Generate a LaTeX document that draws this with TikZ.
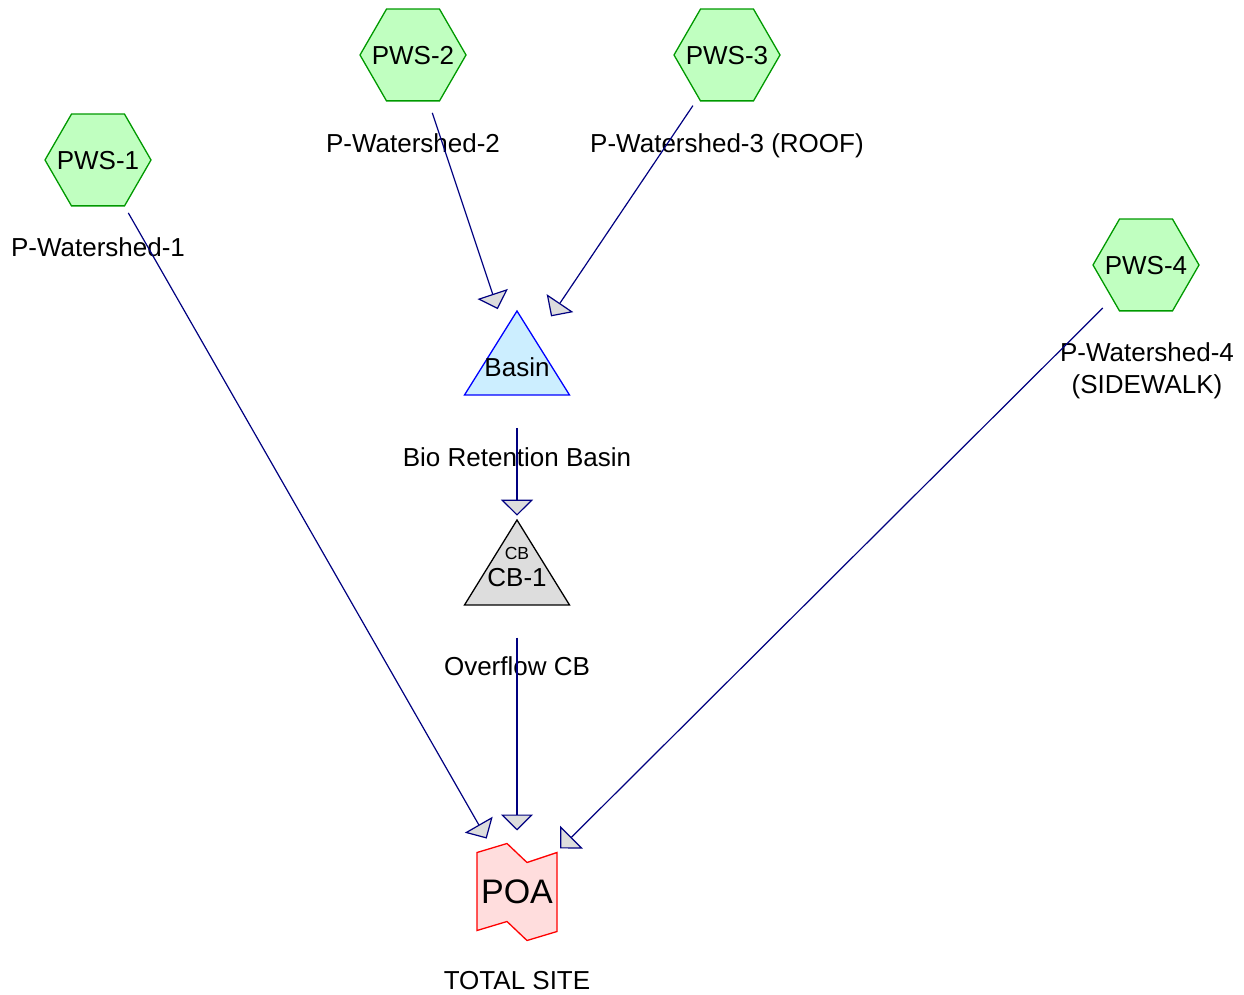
\documentclass[tikz,border=0pt]{standalone}
\usepackage{fontspec}
\setmainfont{Liberation Sans}
\usetikzlibrary{arrows.meta,positioning,shapes.geometric,backgrounds}

\definecolor{wsfill}{HTML}{C0FFC0}
\definecolor{wsline}{HTML}{009900}
\definecolor{pondfill}{HTML}{CCEEFF}
\definecolor{cbfill}{HTML}{DDDDDD}
\definecolor{poafill}{HTML}{FFDDDD}
\definecolor{linknavy}{HTML}{000080}
% keeps the tag from widening its hexagon
\newcommand{\wstag}[1]{\makebox[0pt]{#1}}

\begin{document}
\begin{tikzpicture}[
    x=1pt, y=1pt,
    on grid,
    every node/.style={font=\fontsize{26}{32}\selectfont},
    lbl/.style={inner sep=0pt, text height=18.7pt, text depth=0pt},
    ws/.style={lbl, draw=wsline, fill=wsfill, regular polygon, regular polygon sides=6, minimum size=106pt, line width=1.3pt},
    pond/.style={draw=blue, fill=pondfill, line width=1.3pt},
    catch/.style={draw=black, fill=cbfill, line width=1.3pt},
    outlet/.style={draw=red, fill=poafill, line width=1.3pt},
    flow/.style={draw=linknavy, line width=1.2pt, shorten <=61pt, shorten >=61pt, -{Triangle[length=16pt, width=32pt, fill=cbfill]}}
]
\useasboundingbox (0,0) rectangle (1244,994);
\node[ws] (pws1) at (98,834) {\wstag{PWS-1}};
\node[ws] (pws2) at (413,939) {\wstag{PWS-2}};
\node[ws] (pws3) at (727,939) {\wstag{PWS-3}};
\node[ws] (pws4) at (1146,729) {\wstag{PWS-4}};
\node[lbl, below=87pt of pws1] (lbl1) {P-Watershed-1};
\node[lbl, below=88pt of pws2] (lbl2) {P-Watershed-2};
\node[lbl, below=88pt of pws3] (lbl3) {P-Watershed-3 (ROOF)};
\node[inner sep=0pt, align=center, anchor=north] (lbl4) at (1147,651.5) {P-Watershed-4\\(SIDEWALK)};
\node[lbl] (basin) at (517,627) {Basin};
\node[lbl, below=90pt of basin] (lblbasin) {Bio Retention Basin};
\node[lbl, below=209.7pt of basin] (cb) {CB-1};
\node[lbl, font=\fontsize{17.5}{21}\selectfont, text height=12.5pt, above=23pt of cb] (cbtag) {CB};
\node[lbl, below=89.3pt of cb] (lblcb) {Overflow CB};
\node[lbl, font=\fontsize{34}{40}\selectfont, text height=24.4pt, below=314.8pt of cb] (poa) {POA};
\node[lbl, below=88.5pt of poa] (lblpoa) {TOTAL SITE};
% shapes behind the text
\begin{scope}[on background layer]
\draw[pond, shift={(basin)}] (0,56) -- (-52.5,-28) -- (52.5,-28) -- cycle;
\draw[catch, shift={(cb)}] (0,56.7) -- (-52.5,-28.3) -- (52.5,-28.3) -- cycle;
\draw[outlet, shift={(poa)}] (-40,39) -- (-10,48) -- (10,29) -- (40,39) -- (40,-40) -- (10,-49) -- (-10,-30) -- (-40,-39) -- cycle;
\end{scope}
\draw[flow] (pws1.center) -- (poa.center);
\draw[flow] (pws2.center) -- (basin.center);
\draw[flow] (pws3.center) -- (basin.center);
\draw[flow] (pws4.center) -- (poa.center);
\draw[flow] (basin.center) -- (cb.center);
\draw[flow] (cb.center) -- (poa.center);
\end{tikzpicture}
\end{document}
